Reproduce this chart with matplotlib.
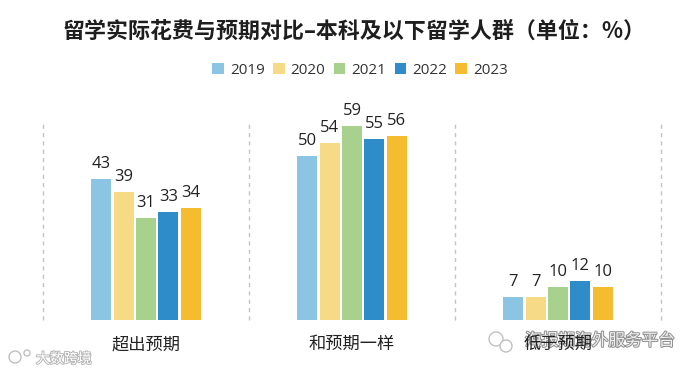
"""Grouped bars: actual study-abroad spend against expectations, by year."""

import numpy as np
import matplotlib
matplotlib.use("Agg")
import matplotlib.pyplot as plt
from matplotlib.patches import Circle
import matplotlib.patheffects as pe

plt.rcParams["font.family"] = ["Noto Sans CJK SC", "DejaVu Sans"]
LATIN = ["Open Sans", "Noto Sans CJK SC"]

TITLE = "留学实际花费与预期对比–本科及以下留学人群（单位：%）"
CATEGORIES = ["超出预期", "和预期一样", "低于预期"]
YEARS = ["2019", "2020", "2021", "2022", "2023"]
VALUES_2019 = [43, 50, 7]
VALUES_2020 = [39, 54, 7]
VALUES_2021 = [31, 59, 10]
VALUES_2022 = [33, 55, 12]
VALUES_2023 = [34, 56, 10]
SERIES = [VALUES_2019, VALUES_2020, VALUES_2021, VALUES_2022, VALUES_2023]
COLORS = ["#8CC4E4", "#F6DA86", "#A9D18E", "#2E8CC9", "#F4BC2E"]

W, H = 698, 373
BAR_WIDTH = 0.097
BAR_STEP = 0.1087

fig = plt.figure(figsize=(W / 100, H / 100), dpi=100)
ax = fig.add_axes([43 / W, (H - 320) / H, 618 / W, 197 / H], facecolor="none")

x = np.arange(len(CATEGORIES))
for i, (year, values, color) in enumerate(zip(YEARS, SERIES, COLORS)):
    bars = ax.bar(x + (i - 2) * BAR_STEP, values, BAR_WIDTH, color=color, label=year)
    ax.bar_label(bars, padding=5, fontsize=12, color="#222222", family=LATIN)

# dashed separators between the groups
ax.vlines(np.arange(len(CATEGORIES) + 1) - 0.5, 0, 60, color="#C4C4C4",
          linewidth=1, linestyles=(0, (3, 3)), clip_on=False)

ax.set_xlim(-0.5, 2.5)
ax.set_ylim(0, 60)
ax.set_xticks(x, CATEGORIES, fontsize=12.4, color="#222222")
ax.tick_params(axis="x", length=0, pad=11)
ax.set_yticks([])
for spine in ax.spines.values():
    spine.set_visible(False)

fig.text(354 / W, (H - 31) / H, TITLE, ha="center", va="center",
         fontsize=15.8, fontweight="bold", color="#1E1E1E")

fig.legend(loc="center", bbox_to_anchor=(360 / W, (H - 70) / H), ncols=5,
           prop={"family": LATIN, "size": 11}, frameon=False,
           handlelength=0.75, handleheight=0.75, handletextpad=0.4,
           columnspacing=0.55, labelcolor="#333333")

# overlaid site watermarks, sitting under the tick label
fig.text(36 / W, (H - 359) / H, "大数跨境", ha="left", va="center", fontsize=10,
         color="white", zorder=-1,
         path_effects=[pe.withStroke(linewidth=1.4, foreground="#B8B8B8")])
fig.text(525 / W, (H - 341) / H, "海报期海外服务平台", ha="left", va="center",
         fontsize=12, color="#F0F0F0", zorder=-1,
         path_effects=[pe.withStroke(linewidth=1.4, foreground="#8E8E8E")])

overlay = fig.add_axes([0, 0, 1, 1], facecolor="none")
overlay.set_xlim(0, W)
overlay.set_ylim(H, 0)
overlay.axis("off")
for cx, cy, r in [(496, 339, 7), (506, 346, 6), (15, 357, 6), (27, 353, 3)]:
    overlay.add_patch(Circle((cx, cy), r, facecolor="white", edgecolor="#C0C0C0",
                             linewidth=1))

fig.savefig("out.png", dpi=100)
